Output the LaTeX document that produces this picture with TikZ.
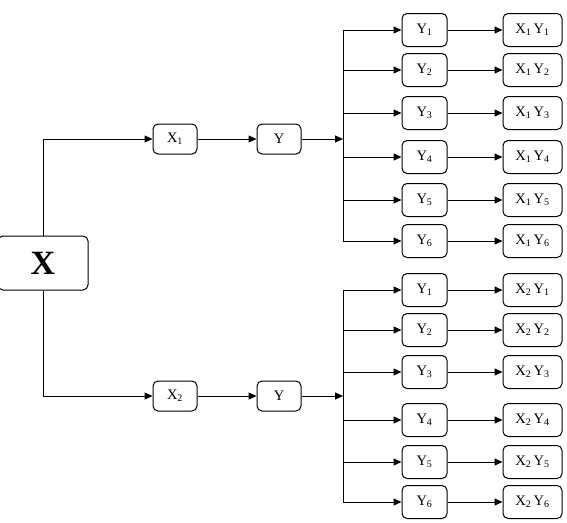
\documentclass[tikz,border=0pt]{standalone}
\usepackage{fontspec}
\setmainfont{Liberation Serif}
\usetikzlibrary{arrows.meta}
\begin{document}
\begin{tikzpicture}[x=1pt,y=-1pt,
  box/.style={draw,rounded corners=5pt,line width=1pt,inner sep=0pt,font=\fontsize{14.5}{16}\selectfont,fill=white},
  sbox/.style={box,minimum width=44pt,minimum height=30pt},
  ybox/.style={box,minimum width=45pt,minimum height=33pt},
  rbox/.style={box,minimum width=59pt,minimum height=33pt},
  conn/.style={line width=1pt,-{Triangle[length=8pt,width=7pt]}},
  ln/.style={line width=1pt}]
\useasboundingbox (0,0) rectangle (567,522);
\newcommand{\sbs}[1]{\textsubscript{\fontsize{10}{10}\selectfont #1}}
\node[box,minimum width=90pt,minimum height=54pt,font=\fontsize{34}{36}\selectfont\bfseries] (X) at (43,263) {X};
% top branch
\node[sbox] (X1) at (175,139) {X\sbs{1}};
\node[sbox] (YA) at (279,139) {Y};
\coordinate (JA) at (343,139);
\draw[ln] (X.north) -- (43,139);
\draw[conn] (43,139) -- (X1.west);
\draw[conn] (X1) -- (YA);
\draw[conn] (YA) -- (JA);
\foreach \i/\yy in {1/30,2/70,3/113,4/157,5/200,6/241}{
  \node[ybox] (A\i) at (424.5,\yy) {Y\sbs{\i}};
  \node[rbox] (AR\i) at (532.5,\yy) {X\sbs{1}\,Y\sbs{\i}};
  \draw[conn] (343,\yy) -- (A\i.west);
  \draw[conn] (A\i) -- (AR\i);
}
\draw[ln] (343,30) -- (343,241);
% bottom branch
\node[sbox] (X2) at (175,396) {X\sbs{2}};
\node[sbox] (YB) at (279,396) {Y};
\coordinate (JB) at (343,396);
\draw[ln] (X.south) -- (43,396);
\draw[conn] (43,396) -- (X2.west);
\draw[conn] (X2) -- (YB);
\draw[conn] (YB) -- (JB);
\foreach \i/\yy in {1/290,2/330,3/372,4/420,5/462,6/502}{
  \node[ybox] (B\i) at (424.5,\yy) {Y\sbs{\i}};
  \node[rbox] (BR\i) at (532.5,\yy) {X\sbs{2}\,Y\sbs{\i}};
  \draw[conn] (343,\yy) -- (B\i.west);
  \draw[conn] (B\i) -- (BR\i);
}
\draw[ln] (343,290) -- (343,502);
\end{tikzpicture}
\end{document}
